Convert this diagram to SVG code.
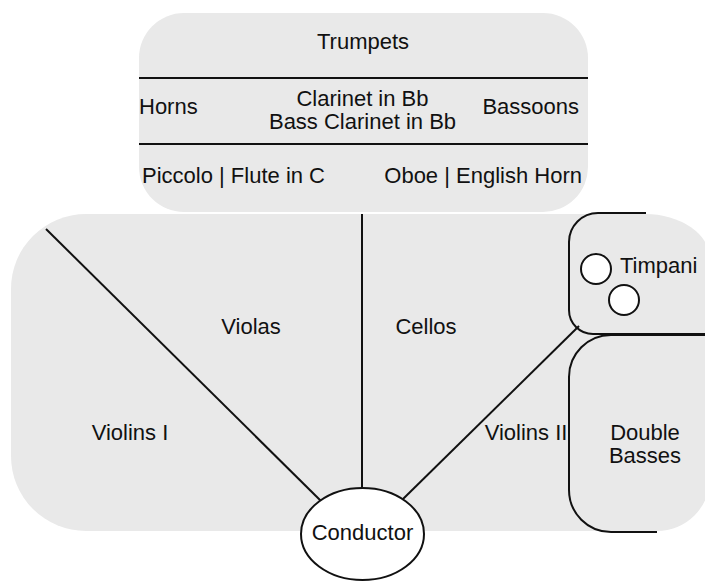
<svg xmlns="http://www.w3.org/2000/svg" width="705" height="581" viewBox="0 0 705 581">
  <style>
    .area { fill: #e9e9e9; stroke: none; }
    .edge { fill: none; stroke: #111; stroke-width: 2; }
    .rule { stroke: #111; stroke-width: 2; }
    .seat { fill: #fff; stroke: #111; stroke-width: 2; }
    text { font-family: "Liberation Sans", Arial, sans-serif; font-size: 22px; fill: #111; }
    .c { text-anchor: middle; }
    .r { text-anchor: end; }
  </style>
  <rect width="705" height="581" fill="#fff"/>

  <!-- woodwind / brass block -->
  <g id="winds">
    <rect class="area" x="139" y="13" width="449" height="199" rx="45" ry="45"/>
    <line class="rule" x1="139" y1="78" x2="588" y2="78"/>
    <line class="rule" x1="139" y1="144" x2="588" y2="144"/>
    <text class="c" x="363" y="49">Trumpets</text>
    <text x="139" y="114">Horns</text>
    <text class="c" x="362.5" y="106">Clarinet in Bb</text>
    <text class="c" x="362.5" y="129">Bass Clarinet in Bb</text>
    <text class="r" x="579" y="114">Bassoons</text>
    <text x="142" y="183">Piccolo | Flute in C</text>
    <text class="r" x="582" y="183">Oboe | English Horn</text>
  </g>

  <!-- string section floor -->
  <g id="strings">
    <path class="area" d="M86 214 H645 A65 45 0 0 1 710 259 V478 A53 53 0 0 1 657 531 H86 A75 75 0 0 1 11 456 V289 A75 75 0 0 1 86 214 Z"/>
    <text class="c" x="130" y="440">Violins I</text>
    <text class="c" x="251" y="334">Violas</text>
    <text class="c" x="426" y="334">Cellos</text>
    <text class="c" x="526" y="440">Violins II</text>
  </g>

  <!-- dividing lines radiating from the podium -->
  <g id="connectors">
    <line class="rule" x1="46" y1="229" x2="321" y2="501"/>
    <line class="rule" x1="362" y1="214" x2="362" y2="488"/>
    <line class="rule" x1="403" y1="499" x2="579" y2="326"/>
  </g>

  <g id="timpani">
    <path class="edge" d="M646 213 H598 A29 29 0 0 0 569 242 V310 A24 24 0 0 0 593 334 H705"/>
    <circle class="seat" cx="596" cy="269" r="15"/>
    <circle class="seat" cx="624" cy="300" r="15"/>
    <text x="620" y="273">Timpani</text>
  </g>

  <g id="double-basses">
    <path class="edge" d="M705 335 H611 A42 42 0 0 0 569 377 V490 A42 42 0 0 0 611 532 H657"/>
    <text class="c" x="645" y="440">Double</text>
    <text class="c" x="645" y="463">Basses</text>
  </g>

  <g id="conductor">
    <ellipse class="seat" cx="362.5" cy="534" rx="61.5" ry="46"/>
    <text class="c" x="362.5" y="540">Conductor</text>
  </g>
</svg>
